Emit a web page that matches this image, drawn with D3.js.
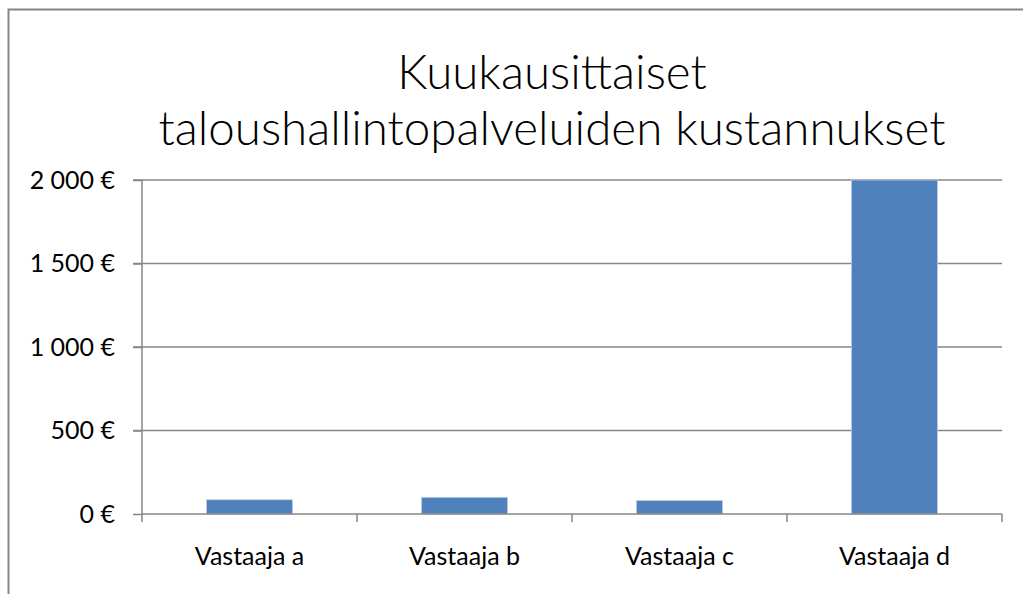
<!DOCTYPE html>
<html>
<head>
<meta charset="utf-8">
<script src="https://cdn.jsdelivr.net/npm/d3@7"></script>
<style>
  body { margin: 0; background: #fff; }
  svg { display: block; font-family: Lato, "Open Sans", sans-serif; }
</style>
</head>
<body>
<svg id="chart" width="1023" height="594"></svg>
<script>
// data
var categories = ["Vastaaja a", "Vastaaja b", "Vastaaja c", "Vastaaja d"];
var costs = [85, 100, 80, 2000];
var yTicks = [0, 500, 1000, 1500, 2000];
var titleLines = ["Kuukausittaiset", "taloushallintopalveluiden kustannukset"];

var svg = d3.select("#chart");
var margin = {left: 142, right: 21, top: 180, bottom: 80};
var width = 1023, height = 594;

// outer chart border (runs off the right and bottom edges)
svg.append("rect")
    .attr("x", 8.5).attr("y", 9.5)
    .attr("width", 1030).attr("height", 600)
    .attr("fill", "none")
    .attr("stroke", "#868686")
    .attr("stroke-width", 2);

var x = d3.scaleBand()
    .domain(categories)
    .range([margin.left, width - margin.right])
    .paddingInner(0.6)
    .paddingOuter(0.3);

var y = d3.scaleLinear()
    .domain([0, 2000])
    .range([height - margin.bottom, margin.top]);

// gridlines
svg.append("g")
  .selectAll("line")
  .data(yTicks.filter(d => d > 0))
  .join("line")
    .attr("x1", margin.left - 9)
    .attr("x2", width - margin.right)
    .attr("y1", d => y(d))
    .attr("y2", d => y(d))
    .attr("stroke", "#868686")
    .attr("stroke-width", 1.5);

// bars
svg.append("g")
  .selectAll("rect")
  .data(costs)
  .join("rect")
    .attr("x", (d, i) => x(categories[i]))
    .attr("y", d => y(d))
    .attr("width", x.bandwidth())
    .attr("height", d => y(0) - y(d))
    .attr("fill", "#4f81bd")
    .attr("stroke", "#b9cde5")
    .attr("stroke-width", 0.8);

// y axis
var yAxis = d3.axisLeft(y)
    .tickValues(yTicks)
    .tickSize(9)
    .tickPadding(18)
    .tickFormat(d => d3.format(",")(d).replace(",", " ") + " €");

var ya = svg.append("g")
    .attr("transform", "translate(" + margin.left + ",0)")
    .call(yAxis);
ya.select(".domain").attr("stroke", "#868686").attr("stroke-width", 1.5)
    .attr("d", "M0," + y(0) + "V" + y(2000));
ya.selectAll(".tick line").attr("stroke", "#868686").attr("stroke-width", 1.5);
ya.selectAll(".tick text").attr("font-size", 25).attr("fill", "#000")
    .attr("font-family", "Lato, sans-serif");

// x axis with ticks at the band boundaries
var boundaries = d3.range(categories.length + 1).map(i => margin.left + i * (width - margin.left - margin.right) / categories.length);
var xa = svg.append("g");
xa.append("line")
    .attr("x1", margin.left).attr("x2", width - margin.right)
    .attr("y1", y(0)).attr("y2", y(0))
    .attr("stroke", "#868686").attr("stroke-width", 1.5);
xa.selectAll(".bt")
  .data(boundaries)
  .join("line")
    .attr("class", "bt")
    .attr("x1", d => d).attr("x2", d => d)
    .attr("y1", y(0)).attr("y2", y(0) + 8)
    .attr("stroke", "#868686").attr("stroke-width", 1.5);
xa.selectAll("text")
  .data(categories)
  .join("text")
    .attr("x", d => x(d) + x.bandwidth() / 2)
    .attr("y", 565)
    .attr("text-anchor", "middle")
    .attr("font-size", 25)
    .attr("fill", "#000")
    .text(d => d);

// title
svg.append("g")
  .selectAll("text")
  .data(titleLines)
  .join("text")
    .attr("x", 552)
    .attr("y", (d, i) => 89 + i * 56)
    .attr("text-anchor", "middle")
    .attr("font-size", 47.5)
    .attr("font-weight", 300)
    .attr("fill", "#000")
    .text(d => d);
</script>
</body>
</html>
